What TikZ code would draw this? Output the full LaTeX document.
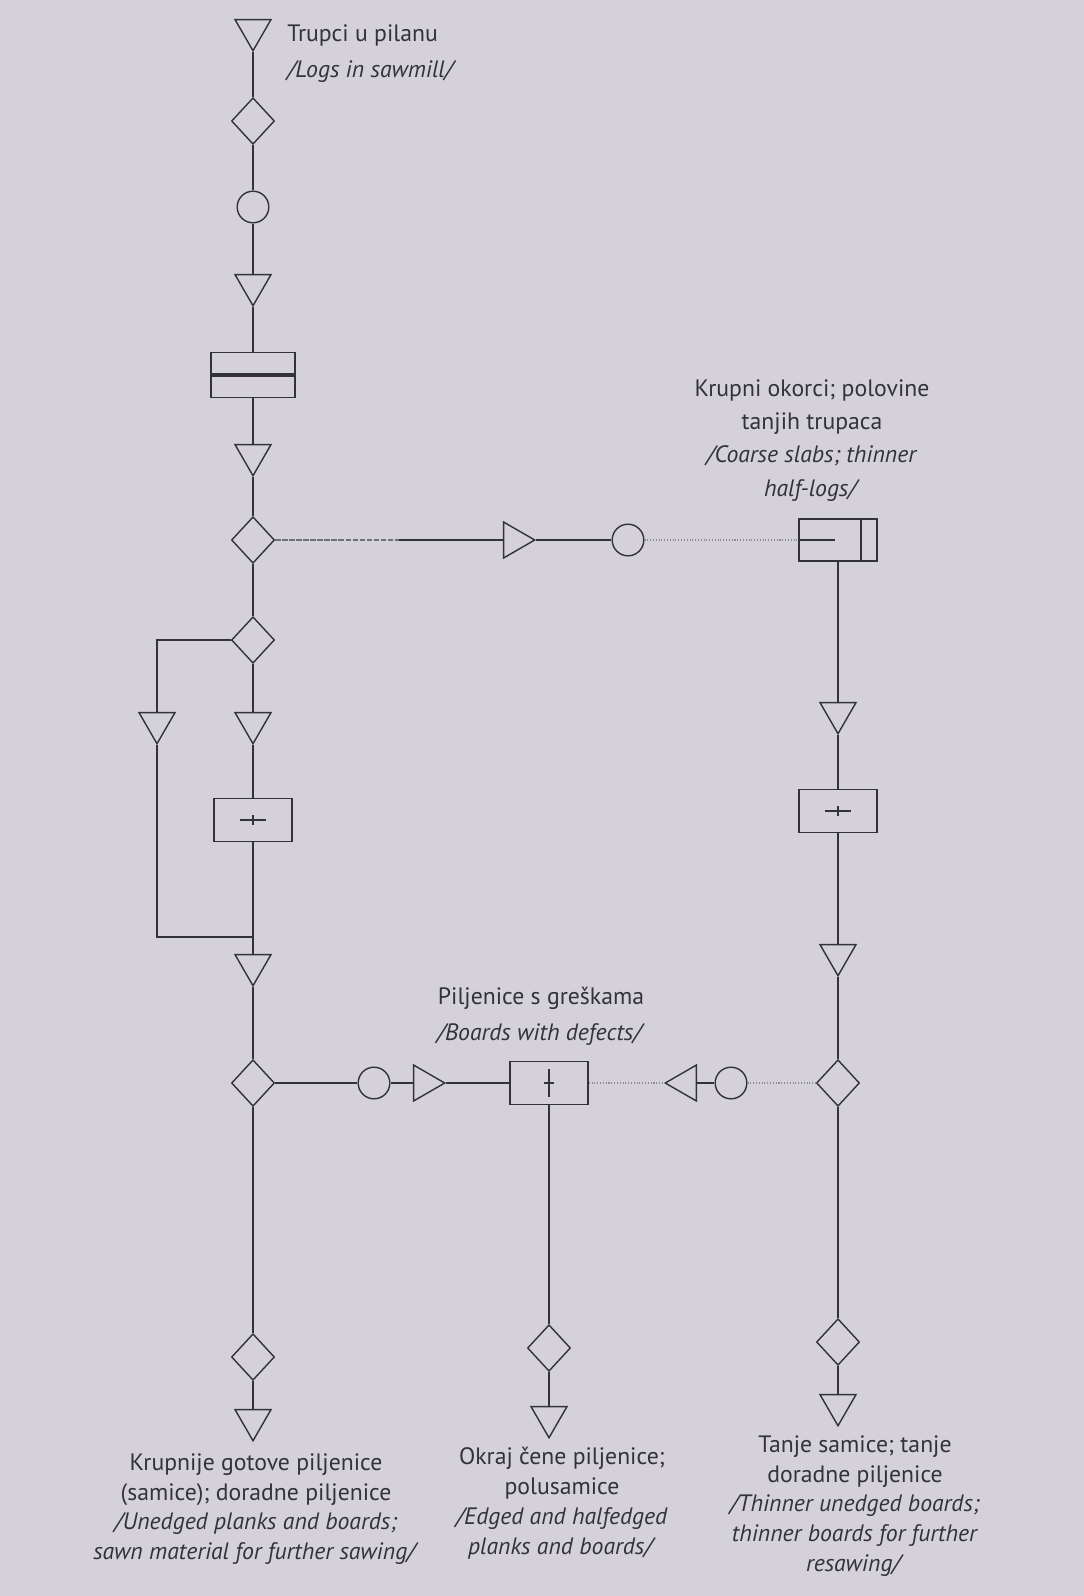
\documentclass[tikz,border=0pt]{standalone}
\usepackage{fontspec}
\setmainfont{PT Sans}
\usetikzlibrary{shapes.geometric}
\definecolor{ink}{RGB}{50, 50, 56}
\definecolor{paper}{RGB}{212, 210, 216}

\tikzset{
  storage/.style={draw=ink, line width=0.8pt, regular polygon, regular polygon sides=3, minimum size=23.6pt, inner sep=0pt, shape border rotate=180},
  transport/.style={storage, shape border rotate=-90},
  transport back/.style={storage, shape border rotate=90},
  inspect/.style={draw=ink, line width=0.8pt, diamond, minimum width=24.5pt, minimum height=26.5pt, inner sep=0pt},
  waiting/.style={draw=ink, line width=0.8pt, circle, minimum size=18pt, inner sep=0pt},
  operation/.style={draw=ink, line width=0.8pt, rectangle, minimum width=44.5pt, minimum height=24.5pt, inner sep=0pt},
  hmark/.style={path picture={
      \draw[ink, line width=0.9pt] ([xshift=-7.5pt]path picture bounding box.center) -- ([xshift=7.5pt]path picture bounding box.center);
      \draw[ink, line width=0.6pt] ([yshift=-2.8pt]path picture bounding box.center) -- ([yshift=2.8pt]path picture bounding box.center);}},
  vmark/.style={path picture={
      \draw[ink, line width=0.9pt] ([yshift=-8pt]path picture bounding box.center) -- ([yshift=8pt]path picture bounding box.center);
      \draw[ink, line width=0.6pt] ([xshift=-3pt]path picture bounding box.center) -- ([xshift=3pt]path picture bounding box.center);}},
  conn/.style={draw=ink, line width=0.6pt},
  conn mid/.style={draw=ink, line width=1pt},
  conn heavy/.style={draw=ink, line width=1.5pt},
  conn faded/.style={draw=ink!70, line width=1.2pt, dash pattern=on 3pt off 1pt},
  conn faint/.style={draw=ink!55, line width=0.6pt, densely dotted},
  txt/.style={text=ink, font=\fontsize{13.5}{19}\selectfont, align=center, inner sep=0pt},
  txt low/.style={txt, font=\fontsize{13.5}{17}\selectfont}
}

\begin{document}
\begin{tikzpicture}[x=0.02cm, y=-0.02cm]
  \useasboundingbox (0,0) rectangle (1083,1596);
  \fill[paper] (-20,-20) rectangle (1103,1616);

  % main line
  \node[storage] (logs) at (253,30) {};
  \node[inspect] (chk1) at (253,121) {};
  \node[waiting] (wait1) at (253,207) {};
  \node[storage] (st1) at (253,285) {};
  \node[operation, minimum width=47.6pt, minimum height=25.5pt] (saw) at (253,375) {};
  \node[storage] (st2) at (253,455) {};
  \node[inspect] (chk2) at (253,540) {};
  \node[inspect] (chk3) at (253,640) {};
  \node[storage] (st3) at (253,723) {};
  \node[storage] (st3l) at (157,723) {};
  \node[operation, hmark] (edge1) at (253,820) {};
  \coordinate (join) at (253,937);
  \node[storage] (st4) at (253,965) {};
  \node[inspect] (chk4) at (253,1083) {};
  \node[inspect] (chk5) at (253,1357) {};
  \node[storage] (end1) at (253,1420) {};
  \draw[ink, line width=1.8pt] (saw.west) -- (saw.east);

  % slabs branch
  \node[transport] (tr1) at (514,540) {};
  \node[waiting] (wait2) at (628,540) {};
  \node[operation, minimum height=23.8pt] (resaw) at (838,540) {};
  \draw[ink, line width=0.8pt] ([xshift=-9.6pt]resaw.north east) -- ([xshift=-9.6pt]resaw.south east);
  \draw[ink, line width=1.6pt] (resaw.west) -- ++(21pt,0);
  \node[storage] (st5) at (838,713) {};
  \node[operation, hmark] (edge2) at (838,811) {};
  \node[storage] (st6) at (838,955) {};
  \node[inspect] (chk6) at (838,1083) {};
  \node[inspect] (chk7) at (838,1342) {};
  \node[storage] (end3) at (838,1405) {};

  % boards with defects
  \node[waiting] (wait3) at (374,1083) {};
  \node[transport] (tr2) at (424,1083) {};
  \node[operation, vmark] (defect) at (549,1083) {};
  \node[transport back] (tr3) at (686,1083) {};
  \node[waiting] (wait4) at (731,1083) {};
  \node[inspect] (chk8) at (549,1348) {};
  \node[storage] (end2) at (549,1417) {};

  % connectors
  \draw[conn] (logs) -- (chk1) -- (wait1) -- (st1) -- (saw) -- (st2) -- (chk2) -- (chk3) -- (st3) -- (edge1) -- (st4) -- (chk4) -- (chk5) -- (end1);
  \draw[conn] (chk3) -| (st3l);
  \draw[conn] (st3l) |- (join);
  \coordinate (fade) at (399,540);
  \draw[conn faded] (chk2) -- (fade);
  \draw[conn heavy] (fade) -- (tr1) -- (wait2);
  \draw[conn faint] (wait2) -- (resaw);
  \draw[conn] (resaw) -- (st5) -- (edge2) -- (st6) -- (chk6) -- (chk7) -- (end3);
  \draw[conn mid] (chk4) -- (wait3) -- (tr2);
  \draw[conn] (tr2) -- (defect);
  \draw[conn faint] (defect) -- (tr3);
  \draw[conn mid] (tr3) -- (wait4);
  \draw[conn faint] (wait4) -- (chk6);
  \draw[conn] (defect) -- (chk8) -- (end2);

  % texts
  \node[txt, anchor=north west, align=left, font=\fontsize{13.5}{20.5}\selectfont] (logstxt) at (287,24) {Trupci u pilanu\\\textit{/Logs in sawmill/}};
  \node[txt, anchor=north] (slabtxt) at (812,379) {Krupni okorci; polovine\\tanjih trupaca\\\textit{/Coarse slabs; thinner}\\\textit{half-logs/}};
  \node[txt, anchor=north, font=\fontsize{13.5}{20.5}\selectfont] (defecttxt) at (541,987) {Piljenice s greškama\\\textit{/Boards with defects/}};
  \node[txt low, anchor=north] (end1txt) at (256,1453) {Krupnije gotove piljenice\\(samice); doradne piljenice\\\textit{/Unedged planks and boards;}\\\textit{sawn material for further sawing/}};
  \node[txt low, anchor=north] (end2txt) at (562,1447) {Okraj čene piljenice;\\polusamice\\\textit{/Edged and halfedged}\\\textit{planks and boards/}};
  \node[txt low, anchor=north] (end3txt) at (855,1435) {Tanje samice; tanje\\doradne piljenice\\\textit{/Thinner unedged boards;}\\\textit{thinner boards for further}\\\textit{resawing/}};
\end{tikzpicture}
\end{document}
